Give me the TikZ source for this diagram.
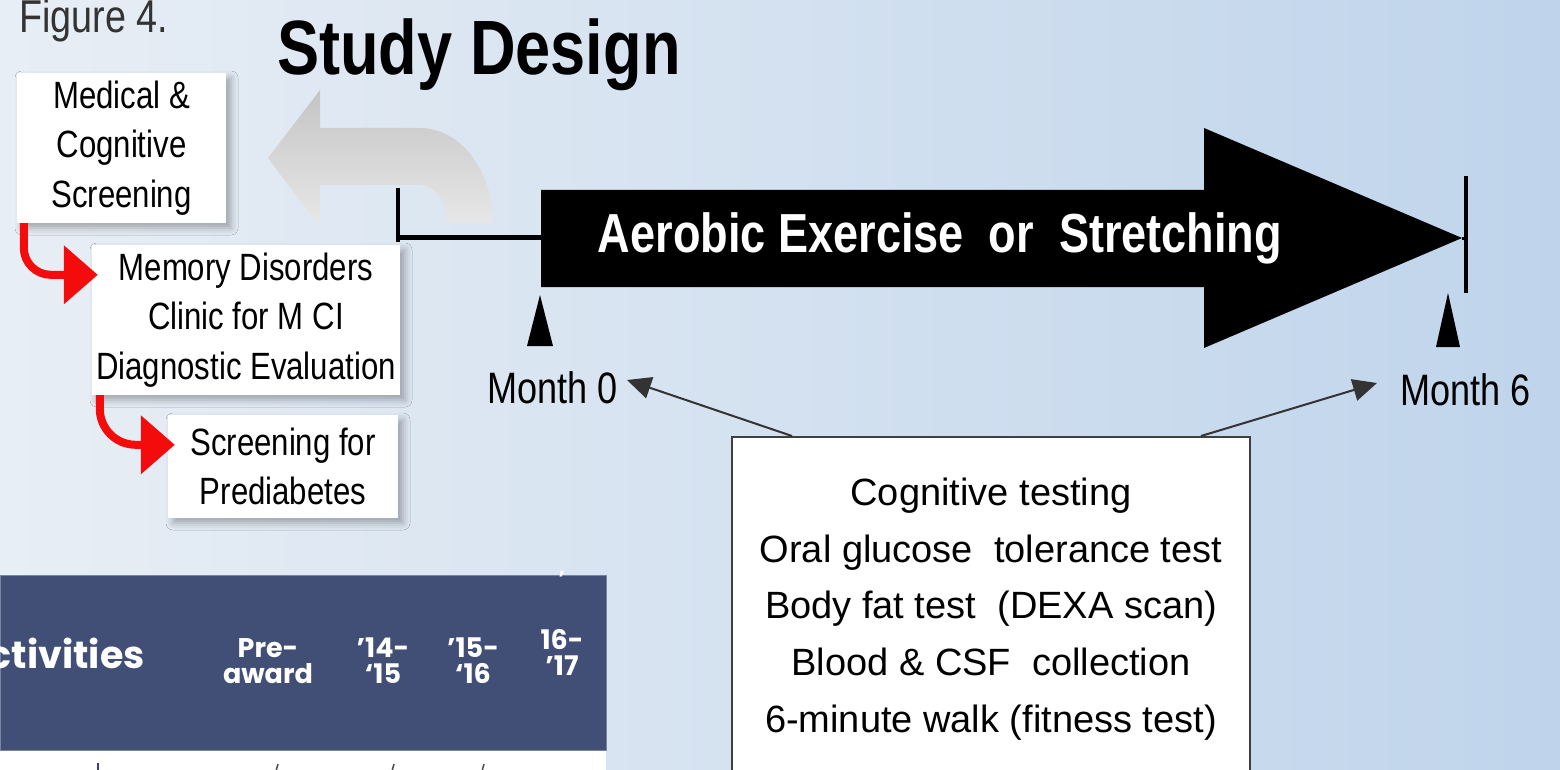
\documentclass[tikz,border=0pt]{standalone}
\usepackage{fontspec}
\setmainfont{Liberation Sans}
\newfontfamily\narrowfont[FakeStretch=0.82]{Liberation Sans}
\newfontfamily\gothic{Poppins}
\usetikzlibrary{arrows.meta,shadows.blur,calc}
\definecolor{bgL}{HTML}{E8EEF5}
\definecolor{bgR}{HTML}{BFD4EB}
\definecolor{navy}{HTML}{414E76}
\definecolor{redarr}{HTML}{F40C0C}
\definecolor{figgray}{HTML}{333333}
\definecolor{boxline}{HTML}{404040}
\tikzset{
  leftbox/.style={rectangle, fill=white, inner sep=0pt, align=center,
    font=\narrowfont\fontsize{38}{49.5}\selectfont,
    blur shadow={shadow xshift=5pt, shadow yshift=-5pt, shadow blur radius=7pt, shadow opacity=30}},
  redarrow/.style={draw=redarr, line width=8pt, -{Triangle[length=34pt,width=57pt]}},
  montharrow/.style={draw=figgray, line width=2pt, -{Triangle[length=24pt,width=22pt]}},
  monthlabel/.style={font=\narrowfont\fontsize{44}{48}\selectfont, anchor=base west, inner sep=0pt},
  testbox/.style={rectangle, draw=boxline, line width=2pt, fill=white, align=center,
    minimum width=518pt, inner xsep=0pt, inner ysep=41pt,
    font=\fontsize{38}{56.7}\selectfont},
  colhead/.style={font=\gothic\bfseries\fontsize{27}{26}\selectfont, text=white, align=center, inner sep=0pt},
  timeline/.style={line width=4.5pt, line cap=butt},
}
\begin{document}
\begin{tikzpicture}[x=1pt,y=-1pt]
\useasboundingbox (0,0) rectangle (1560,770);
\clip (0,0) rectangle (1560,770);
% background
\shade[left color=bgL, right color=bgR] (0,0) rectangle (1560,770);

% titles
\node[font=\narrowfont\fontsize{46}{50}\selectfont, text=figgray, anchor=base west, inner sep=0pt] (fig) at (19,33) {Figure 4.};
\node[font=\narrowfont\bfseries\fontsize{77}{80}\selectfont, anchor=base west, inner sep=0pt] (title) at (277,75) {Study Design};

% grey bent arrow
\shade[top color=black!23, bottom color=black!9]
  (268,158) -- (320,90) -- (320,128) -- (420,128)
  arc[start angle=90, end angle=0, x radius=73pt, y radius=95pt]
  -- (447,223)
  arc[start angle=0, end angle=90, x radius=27pt, y radius=38pt]
  -- (320,185) -- (320,227) -- cycle;

% left boxes
\node[leftbox, minimum width=209pt, minimum height=150pt] (m1) at (121.5,148) {Medical \&\\Cognitive\\Screening};
\node[leftbox, minimum width=308pt, minimum height=150pt] (m2) at (246,320) {Memory Disorders\\Clinic for M CI\\Diagnostic Evaluation};
\node[leftbox, minimum width=230pt, minimum height=103pt] (m3) at (283,466.5) {Screening for\\Prediabetes};

% red arrows
\coordinate (r1s) at ($(m1.south west)+(7,0)$);
\coordinate (r1e) at ($(m2.north west)+(6,30)$);
\draw[redarrow, rounded corners=27pt] (r1s) |- (r1e);
\coordinate (r2s) at ($(m2.south west)+(8,0)$);
\coordinate (r2e) at ($(m3.north west)+(7,30)$);
\draw[redarrow, rounded corners=36pt] (r2s) |- (r2e);

% timeline
\coordinate (tick0top) at (398,188);
\coordinate (tick0bot) at (398,242);
\coordinate (tick0) at (398,237.5);
\coordinate (barL) at (541,237.5);
\draw[timeline] (tick0top) -- (tick0bot);
\draw[line width=5pt] (tick0) -- (barL);

% main black arrow
\fill[black] (541,190) -- (1204,190) -- (1204,128) -- (1462,238) -- (1204,348) -- (1204,287) -- (541,287) -- cycle;
\node[font=\narrowfont\bfseries\fontsize{55}{60}\selectfont, text=white, anchor=base, inner sep=0pt] (aer) at (940,252) {Aerobic Exercise\ \ or\ \ Stretching};

\coordinate (tick6top) at (1466,176);
\coordinate (tick6bot) at (1466,293);
\coordinate (tip6) at (1462,238);
\draw[timeline] (tick6top) -- (tick6bot);
\draw[line width=3pt] (tip6) -- (1466,238);

% markers
\fill (540,295) -- (553,346) -- (527,346) -- cycle;
\fill (1448,293) -- (1460,347) -- (1436,347) -- cycle;

% month labels
\node[monthlabel] (mon0) at (487,403) {Month 0};
\node[monthlabel] (mon6) at (1400,405) {Month 6};

% tests box
\node[testbox, anchor=north] (tests) at (991,436) {Cognitive testing\\Oral glucose\ \ tolerance test\\Body fat test\ \ (DEXA scan)\\Blood \& CSF\ \ collection\\6-minute walk (fitness test)};

\coordinate (m0tip) at (627,380);
\coordinate (m6tip) at (1377,383);
\draw[montharrow] ($(tests.north west)+(61,0)$) -- (m0tip);
\draw[montharrow] ($(tests.north east)+(-50,0)$) -- (m6tip);

% table fragment
\node[fill=navy, draw=navy!70!white, line width=1pt, minimum width=606pt, minimum height=175pt, anchor=north west, inner sep=0pt] (tbl) at (0,575) {};
\fill[white] (0,750.5) rectangle (606,775);
\node[font=\gothic\bfseries\fontsize{38}{40}\selectfont, text=white, anchor=base east, inner sep=0pt] (act) at (145,668) {ctivities};
\node[colhead] (c1) at (268,661) {Pre-\\award};
\node[colhead] (c2) at (383,661) {’14-\\‘15};
\node[colhead] (c3) at (473,661) {’15-\\‘16};
\node[colhead] (c4) at (562,652) {16-\\’17};
\node[font=\gothic\bfseries\fontsize{20}{20}\selectfont, text=white, inner sep=0pt] (cm) at (562,574) {,};
\draw[navy!80!blue, line width=2pt] (98,763) -- (98,771);
\draw[black!70, line width=1.5pt] (276,771) -- (278,764);
\draw[black!70, line width=1.5pt] (392,771) -- (394,764);
\draw[black!70, line width=1.5pt] (482,771) -- (484,764);
\end{tikzpicture}
\end{document}
